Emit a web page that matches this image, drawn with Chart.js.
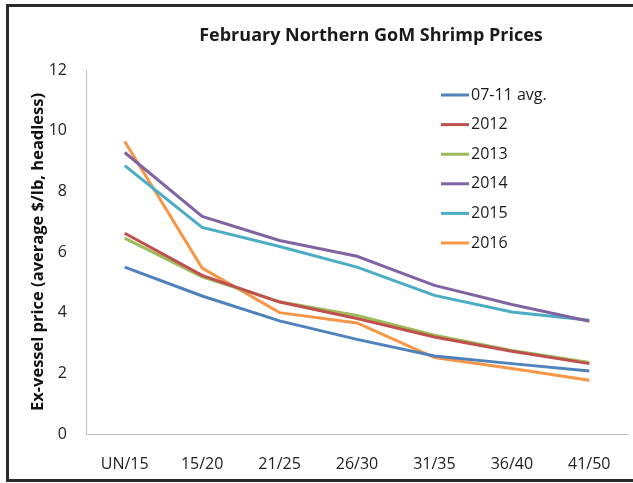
<!DOCTYPE html>
<html>
<head>
<meta charset="utf-8">
<script src="https://cdn.jsdelivr.net/npm/chart.js@4"></script>
<style>
    body { margin: 0; background: #fff; }
    #wrap { position: relative; width: 633px; height: 483px; overflow: hidden; }
    #frame { position: absolute; left: 6px; top: 4px; width: 640px; height: 472px; border: 3px solid #2b2b2b; pointer-events: none; }
    canvas { position: absolute; left: 0; top: 0; }
</style>
</head>
<body>
<div id="wrap">
    <canvas id="graficoCamarao" width="633" height="483"></canvas>
    <div id="frame"></div>
</div>
<script>
const tamanhos = ['UN/15', '15/20', '21/25', '26/30', '31/35', '36/40', '41/50'];

const media0711 = [5.5, 4.55, 3.73, 3.12, 2.57, 2.32, 2.08];
const ano2012 = [6.62, 5.23, 4.35, 3.81, 3.2, 2.73, 2.32];
const ano2013 = [6.46, 5.18, 4.36, 3.91, 3.26, 2.75, 2.36];
const ano2014 = [9.28, 7.17, 6.38, 5.86, 4.9, 4.27, 3.72];
const ano2015 = [8.85, 6.81, 6.18, 5.5, 4.57, 4.02, 3.75];
const ano2016 = [9.64, 5.47, 4.0, 3.66, 2.52, 2.16, 1.77];

const tituloGrafico = 'February Northern GoM Shrimp Prices';
const tituloEixoY = 'Ex-vessel price (average $/lb, headless)';

// title and legend drawn by hand, to sit where the original puts them
const tituloELegenda = {
    id: 'tituloELegenda',
    afterDraw(chart) {
        const c = chart.ctx;
        c.save();
        c.fillStyle = '#1a1a1a';
        c.textBaseline = 'middle';
        c.font = 'bold 18px "Open Sans"';
        c.textAlign = 'center';
        c.fillText(tituloGrafico, 371, 36);

        c.font = '16px "Open Sans"';
        c.textAlign = 'left';
        chart.data.datasets.forEach((ds, i) => {
            const y = 95 + i * 29.6;
            c.strokeStyle = ds.borderColor;
            c.lineWidth = 3;
            c.beginPath();
            c.moveTo(441, y);
            c.lineTo(469, y);
            c.stroke();
            c.fillText(ds.label, 471, y);
        });
        c.restore();
    }
};

function serie(label, data, cor) {
    return {
        label: label,
        data: data,
        borderColor: cor,
        backgroundColor: cor,
        borderWidth: 3,
        pointRadius: 0,
        tension: 0,
        fill: false
    };
}

const ctx = document.getElementById('graficoCamarao').getContext('2d');
const graficoCamarao = new Chart(ctx, {
    type: 'line',

    data: {
        labels: tamanhos,
        datasets: [
            serie('07-11 avg.', media0711, '#4F81BD'),
            serie('2012', ano2012, '#C0504D'),
            serie('2013', ano2013, '#9BBB59'),
            serie('2014', ano2014, '#8064A2'),
            serie('2015', ano2015, '#4BACC6'),
            serie('2016', ano2016, '#F79646')
        ]
    },

    options: {
        responsive: false,
        animation: false,
        layout: {
            padding: { top: 70, right: 5, left: 0, bottom: 0 }
        },
        plugins: {
            legend: { display: false },
            title: { display: false },
            tooltip: { enabled: false }
        },
        scales: {
            x: {
                offset: true,
                grid: { display: false, drawTicks: false },
                border: { display: true, color: '#c0c0c0', width: 1 },
                ticks: {
                    color: '#222',
                    font: { family: 'Open Sans', size: 16 },
                    padding: 21,
                    maxRotation: 0
                },
                afterFit(scale) { scale.height = 49; }
            },
            y: {
                min: 0,
                max: 12,
                grid: { display: false, drawTicks: false },
                border: { display: true, color: '#c0c0c0', width: 1 },
                ticks: {
                    stepSize: 2,
                    color: '#222',
                    font: { family: 'Open Sans', size: 16 },
                    padding: 19
                },
                title: {
                    display: true,
                    text: tituloEixoY,
                    color: '#111',
                    font: { family: 'Open Sans', size: 16.5, weight: 'bold' },
                    padding: { top: 28, bottom: 0 }
                },
                afterFit(scale) { scale.width = 86; }
            }
        }
    },

    plugins: [tituloELegenda]
});
</script>
</body>
</html>
